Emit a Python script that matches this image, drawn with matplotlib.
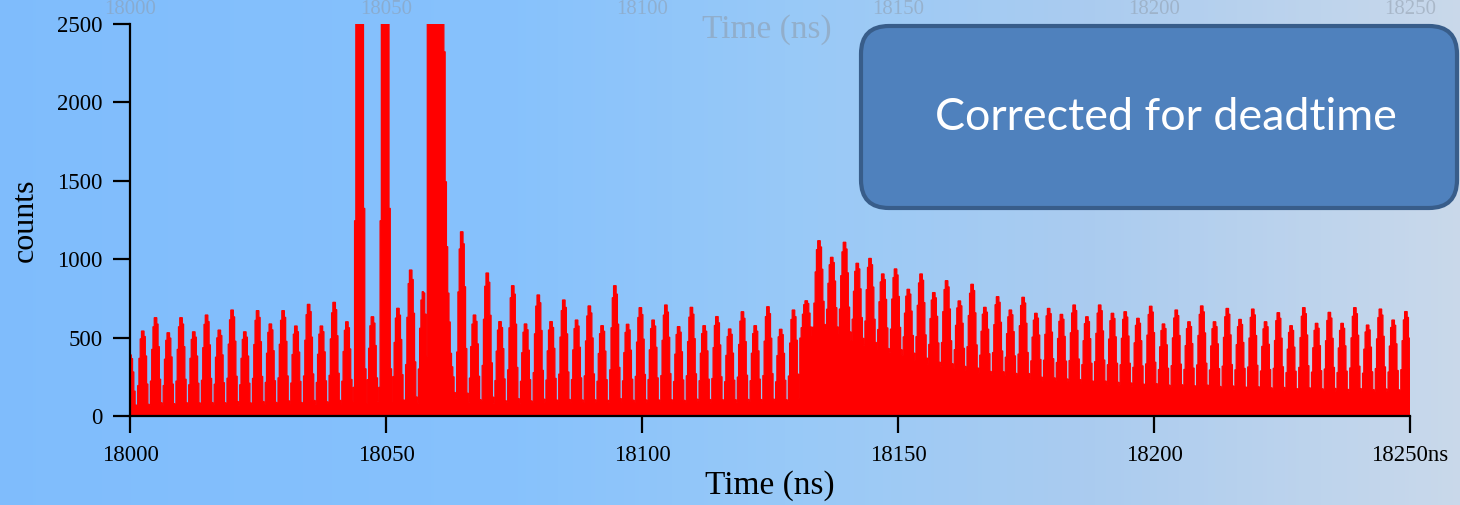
import numpy as np
import matplotlib.pyplot as plt
from matplotlib.patches import FancyBboxPatch

# time histogram: one bunch every ~2.49 ns, 10 bins of 0.25 ns per bunch
t_first = 18000.0
bunch_period = 2.492
bunch_shape = [0.03, 0.3, 0.65, 0.9, 1.0, 1.0, 0.93, 0.68, 0.32, 0.06]

peak_counts = [390, 542, 627, 531, 627, 537, 644, 548, 676, 537,
               672, 587, 672, 574, 712, 574, 725, 601, 4000, 633,
               4000, 687, 931, 793, 2600, 2323, 1175, 644, 912, 602,
               831, 587, 772, 602, 740, 612, 702, 576, 831, 585,
               691, 612, 708, 570, 693, 576, 634, 555, 665, 576,
               697, 553, 676, 735, 1118, 1012, 1108, 974, 1005, 906,
               938, 808, 906, 787, 863, 734, 840, 693, 761, 676,
               757, 655, 686, 648, 708, 633, 708, 655, 665, 623,
               700, 587, 676, 601, 702, 601, 686, 616, 682, 601,
               659, 576, 691, 591, 661, 591, 691, 580, 682, 612, 666]

base_counts = [50, 45, 50, 50, 50, 55, 50, 55, 55, 55,
               55, 55, 60, 55, 60, 60, 60, 60, 65, 60,
               65, 65, 70, 75, 75, 75, 80, 70, 70, 65,
               65, 65, 65, 70, 65, 70, 65, 70, 65, 70,
               65, 70, 65, 70, 70, 75, 70, 75, 70, 75,
               70, 75, 75, 490, 550, 540, 500, 465, 435, 400,
               390, 375, 335, 315, 300, 290, 272, 258, 252, 246,
               240, 222, 215, 210, 202, 197, 192, 187, 182, 177,
               175, 172, 169, 167, 165, 162, 160, 157, 155, 153,
               152, 149, 147, 147, 145, 143, 142, 142, 140, 139, 137]

# bins of bunches 23-25 (saturated burst), read directly
burst_first = 23
burst_counts = [80, 300, 560, 740, 793, 785, 650, 380, 2600, 2600,
                2600, 2600, 2600, 2600, 2600, 2600, 2600, 2600, 2600, 2600,
                2600, 2323, 1494, 1080, 784, 600, 400, 314, 250, 150]

x_ticks = [18000, 18050, 18100, 18150, 18200, 18250]
x_labels = ['18000', '18050', '18100', '18150', '18200', '18250ns']
y_ticks = [0, 500, 1000, 1500, 2000, 2500]

shape = np.array(bunch_shape)
nbin = len(shape)
counts = np.concatenate([b + (p - b) * shape for p, b in zip(peak_counts, base_counts)])
counts[burst_first * nbin:burst_first * nbin + len(burst_counts)] = burst_counts
edges = t_first - bunch_period / 2 + np.arange(len(counts) + 1) * bunch_period / nbin

W, H = 1460, 505
fig = plt.figure(figsize=(W / 100, H / 100), dpi=100)

# slide background gradient
bg = fig.add_axes([0, 0, 1, 1], zorder=0)
stops_x = [0.0, 0.35, 0.55, 0.75, 1.0]
stops_c = np.array([[0.50, 0.74, 0.99], [0.53, 0.76, 0.99], [0.60, 0.79, 0.97],
                    [0.67, 0.80, 0.94], [0.79, 0.85, 0.92]])
xs = np.linspace(0, 1, 400)
grad = np.stack([np.interp(xs, stops_x, stops_c[:, i]) for i in range(3)], axis=-1)
bg.imshow(grad[None, :, :], extent=[0, 1, 0, 1], aspect='auto')
bg.axis('off')

serif = 'Liberation Serif'
ax = fig.add_axes([130 / W, 1 - 416 / H, 1280 / W, 392 / H], zorder=1)
ax.patch.set_alpha(0)
ax.stairs(counts, edges, fill=True, facecolor='#ff0000', edgecolor='#ff0000', linewidth=0.9)
ax.set_xlim(18000, 18250)
ax.set_ylim(0, 2500)
ax.set_xticks(x_ticks)
ax.set_xticklabels(x_labels, family=serif, fontsize=16.5)
ax.set_yticks(y_ticks)
ax.set_yticklabels([str(v) for v in y_ticks], family=serif, fontsize=16.5)
ax.tick_params(direction='out', length=12, width=1.6, color='black')
ax.tick_params(axis='x', pad=9)
ax.tick_params(axis='y', pad=8)
for s in ['top', 'right']:
    ax.spines[s].set_visible(False)
for s in ['left', 'bottom']:
    ax.spines[s].set_linewidth(1.6)
ax.set_xlabel('Time (ns)', family=serif, fontsize=24)
ax.xaxis.set_label_coords((770 - 130) / 1280, -(470 - 416) / 392)
ax.set_ylabel('counts', family=serif, fontsize=23)
ax.yaxis.set_label_coords((40 - 130) / 1280, (416 - 220) / 392)

# overlay in pixel coordinates
ov = fig.add_axes([0, 0, 1, 1], zorder=2)
ov.set_xlim(0, W)
ov.set_ylim(H, 0)
ov.axis('off')
ov.patch.set_alpha(0)

# faint ghost of the previous slide's top axis
ghost = '#8e9aa8'
for t, lab in zip(x_ticks, ['18000', '18050', '18100', '18150', '18200', '18250']):
    px = 130 + (t - 18000) / 250 * 1280
    ov.text(px, 14, lab, family=serif, fontsize=15, color=ghost, alpha=0.5,
            ha='center', va='baseline')
ov.text(767, 30, 'Time (ns)', family=serif, fontsize=24, color=ghost, alpha=0.55,
        ha='center', va='center')

box = FancyBboxPatch((861, 26), 596, 182, boxstyle='round,pad=0,rounding_size=28',
                     facecolor='#4f81bd', edgecolor='#385d8a', linewidth=3)
ov.add_patch(box)
ov.text(1166, 118, 'Corrected for deadtime', family='Lato', fontsize=32.3,
        color='white', ha='center', va='center')

fig.savefig('out.png', dpi=100)
